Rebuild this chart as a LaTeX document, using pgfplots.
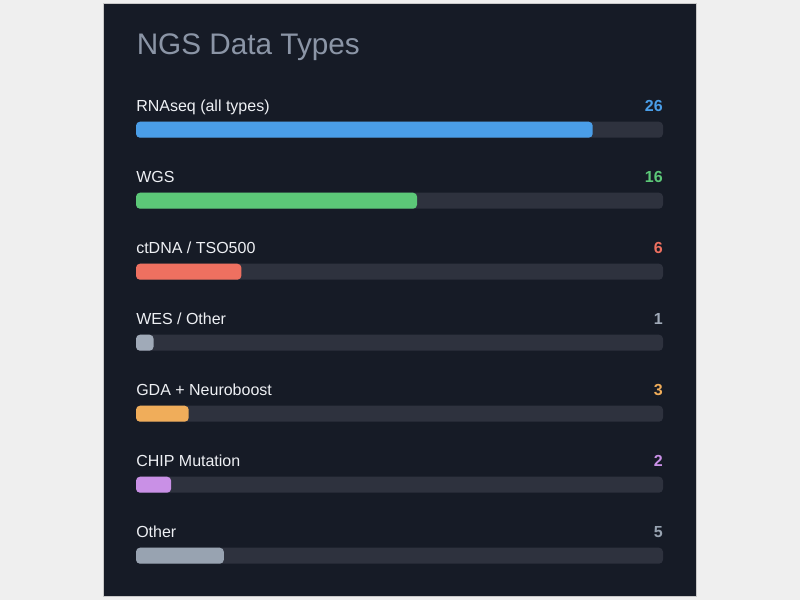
\documentclass[border=0pt]{standalone}
\usepackage{pgfplots}
\pgfplotsset{compat=1.18}
\usepackage{fontspec}
\setmainfont{Liberation Sans}
\definecolor{pagebg}{HTML}{EFEFEF}
\definecolor{panelbg}{HTML}{161B26}
\definecolor{panelborder}{HTML}{C8C8C8}
\definecolor{track}{HTML}{2E323E}
\definecolor{titlecol}{HTML}{8B95A6}
\definecolor{labelcol}{HTML}{EEF0F4}
\definecolor{cBlue}{HTML}{4A9EE8}
\definecolor{cGreen}{HTML}{5CC878}
\definecolor{cRed}{HTML}{EE7060}
\definecolor{cGray}{HTML}{A0AAB8}
\definecolor{cOrange}{HTML}{F0AD5A}
\definecolor{cPurple}{HTML}{C990E6}
\definecolor{cSlate}{HTML}{98A3B1}
\tikzset{
  lab/.style={anchor=base west,inner sep=0pt,text=labelcol,font=\fontsize{12pt}{14pt}\selectfont},
  val/.style={anchor=base east,inner sep=0pt,font=\fontsize{12pt}{14pt}\selectfont\bfseries},
}
\begin{document}
\begin{tikzpicture}[x=0.75pt,y=-0.75pt]
\useasboundingbox (0,0) rectangle (800,600);
\fill[pagebg] (0,0) rectangle (800,600);
\filldraw[fill=panelbg,draw=panelborder,line width=0.75pt] (103.5,3.5) rectangle (696.5,596.5);
\node[anchor=base west,inner sep=0pt,text=titlecol,font=\fontsize{22.3pt}{25pt}\selectfont] at (136.5,54) {NGS Data Types};
\begin{axis}[
  at={(102pt,-450pt)}, anchor=south west,
  scale only axis, width=395.25pt, height=450pt,
  xmin=0, xmax=30, ymin=0, ymax=600, y dir=reverse,
  hide axis, clip=false,
  every axis plot/.append style={draw=none, rounded corners=3pt},
]
% tracks
\addplot[fill=track] coordinates {(0,121.7) (30,121.7) (30,137.7) (0,137.7)} -- cycle;
\addplot[fill=track] coordinates {(0,192.7) (30,192.7) (30,208.7) (0,208.7)} -- cycle;
\addplot[fill=track] coordinates {(0,263.7) (30,263.7) (30,279.7) (0,279.7)} -- cycle;
\addplot[fill=track] coordinates {(0,334.7) (30,334.7) (30,350.7) (0,350.7)} -- cycle;
\addplot[fill=track] coordinates {(0,405.7) (30,405.7) (30,421.7) (0,421.7)} -- cycle;
\addplot[fill=track] coordinates {(0,476.7) (30,476.7) (30,492.7) (0,492.7)} -- cycle;
\addplot[fill=track] coordinates {(0,547.7) (30,547.7) (30,563.7) (0,563.7)} -- cycle;
% bars
\addplot[fill=cBlue] coordinates {(0,121.7) (26,121.7) (26,137.7) (0,137.7)} -- cycle;
\addplot[fill=cGreen] coordinates {(0,192.7) (16,192.7) (16,208.7) (0,208.7)} -- cycle;
\addplot[fill=cRed] coordinates {(0,263.7) (6,263.7) (6,279.7) (0,279.7)} -- cycle;
\addplot[fill=cGray] coordinates {(0,334.7) (1,334.7) (1,350.7) (0,350.7)} -- cycle;
\addplot[fill=cOrange] coordinates {(0,405.7) (3,405.7) (3,421.7) (0,421.7)} -- cycle;
\addplot[fill=cPurple] coordinates {(0,476.7) (2,476.7) (2,492.7) (0,492.7)} -- cycle;
\addplot[fill=cSlate] coordinates {(0,547.7) (5,547.7) (5,563.7) (0,563.7)} -- cycle;
% labels
\node[lab] at (axis cs:0,111.5) {RNAseq (all types)};
\node[lab] at (axis cs:0,182.5) {WGS};
\node[lab] at (axis cs:0,253.5) {ctDNA / TSO500};
\node[lab] at (axis cs:0,324.5) {WES / Other};
\node[lab] at (axis cs:0,395.5) {GDA + Neuroboost};
\node[lab] at (axis cs:0,466.5) {CHIP Mutation};
\node[lab] at (axis cs:0,537.5) {Other};
\node[val,text=cBlue] at (axis cs:30,111.5) {26};
\node[val,text=cGreen] at (axis cs:30,182.5) {16};
\node[val,text=cRed] at (axis cs:30,253.5) {6};
\node[val,text=cGray] at (axis cs:30,324.5) {1};
\node[val,text=cOrange] at (axis cs:30,395.5) {3};
\node[val,text=cPurple] at (axis cs:30,466.5) {2};
\node[val,text=cSlate] at (axis cs:30,537.5) {5};
\end{axis}
\end{tikzpicture}
\end{document}
